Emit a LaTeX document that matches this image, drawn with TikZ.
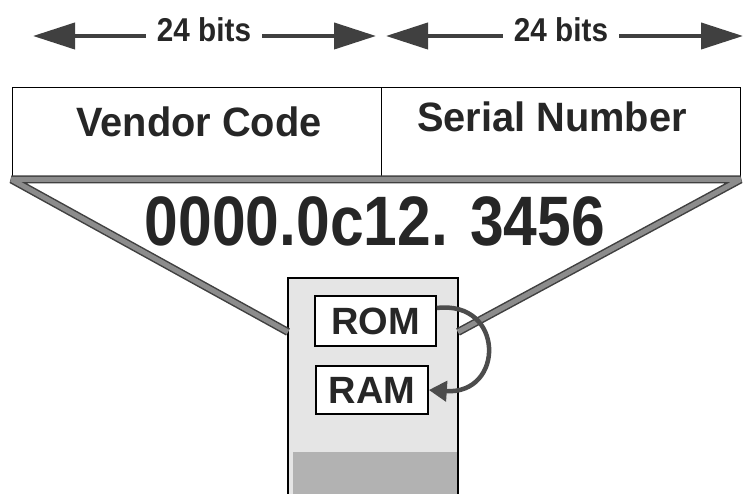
\documentclass[tikz,border=0pt]{standalone}
\usepackage{fontspec}
\setmainfont{Liberation Sans}
\usetikzlibrary{arrows.meta}
\begin{document}
\begin{tikzpicture}[x=1pt,y=-1pt,
	field/.style={draw, line width=1pt, inner sep=0pt, minimum height=89pt},
	fieldtext/.style={font=\fontsize{41}{41}\selectfont\bfseries, text=black!85, xscale=0.97},
	bits/.style={font=\fontsize{33}{33}\selectfont\bfseries, inner xsep=12pt, text=black!85, xscale=0.9},
	bitarrow/.style={draw=black!75, line width=4pt, -{Triangle[length=42pt,width=26pt]}},
	funnel/.style={draw=black!75, line width=1.5pt, double=black!45, double distance=5pt, line join=bevel},
	memory/.style={draw, fill=white, line width=1.6pt, inner sep=0pt, font=\fontsize{38}{38}\selectfont\bfseries, text=black!85},
	swap/.style={draw=black!70, line width=4.5pt, -{Triangle[length=18pt,width=20pt]}}]
	\useasboundingbox[fill=white] (0,0) rectangle (746,494);

	% bit widths
	\node(lbits) [bits] at (204,30) {24 bits};
	\node(rbits) [bits] at (561,30) {24 bits};
	\coordinate(lleft) at (33,36);
	\coordinate(lright) at (376,36);
	\coordinate(rleft) at (386,36);
	\coordinate(rright) at (743,36);
	\draw[bitarrow] (lbits.west |- lleft) -- (lleft);
	\draw[bitarrow] (lbits.east |- lright) -- (lright);
	\draw[bitarrow] (rbits.west |- rleft) -- (rleft);
	\draw[bitarrow] (rbits.east |- rright) -- (rright);

	% address fields
	\node(vendor) [field, minimum width=369pt] at (196.5,132.5) {};
	\node(serial) [field, minimum width=359pt] at (560.5,132.5) {};
	\node(vendortext) [fieldtext] at (199,122) {Vendor Code};
	\node(serialtext) [fieldtext] at (552,117) {Serial Number};

	% chip
	\node(chip) [draw, fill=black!10, line width=1.5pt, minimum width=170pt, minimum height=222pt] at (373,389) {};
	\node(base) [fill=black!30, inner sep=0pt, minimum width=164pt, minimum height=48pt] at (375,476) {};
	\coordinate(lfoot) at (288,332);
	\coordinate(rfoot) at (458,332);
	\draw[funnel] (lfoot) -- ([yshift=-2pt]vendor.south west) -- ([yshift=-2pt]serial.south east) -- (rfoot);

	\node(addr) [font=\fontsize{70}{70}\selectfont\bfseries, text=black!85, xscale=0.865] at (375,221) {0000.0c12. 3456};

	\node(rom) [memory, minimum width=121pt, minimum height=50pt] at (375.5,321) {ROM};
	\node(ram) [memory, minimum width=112pt, minimum height=48pt] at (372,390) {RAM};
	\draw[swap] ([yshift=13pt]rom.east) .. controls (505,300) and (505,395) .. (ram.east);
\end{tikzpicture}
\end{document}
